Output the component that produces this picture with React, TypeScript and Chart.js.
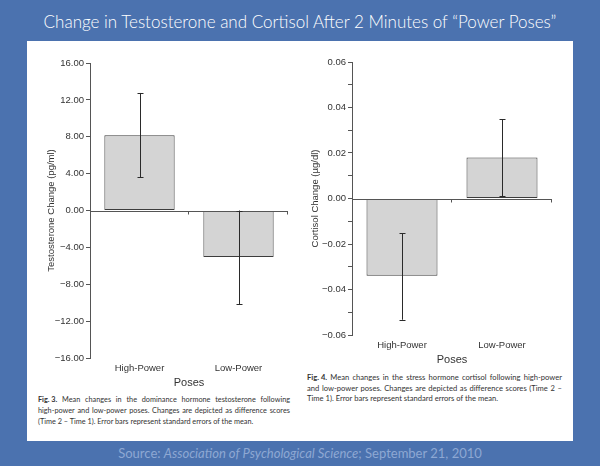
import React, { useEffect, useRef } from 'react';
import { Chart, registerables } from 'chart.js';

Chart.register(...registerables);

// ---------- data ----------
const poses = ['High-Power', 'Low-Power'];

const testosteroneMeans = [8.15, -5.05];
const testosteroneErrLow = [3.6, -10.15];
const testosteroneErrHigh = [12.75, 0];
const testosteroneTicks = [-16, -12, -8, -4, 0, 4, 8, 12, 16];
const testosteroneTickLabels = ['−16.00', '−12.00', '−8.00', '−4.00', '0.00', '4.00', '8.00', '12.00', '16.00'];

const cortisolMeans = [-0.034, 0.018];
const cortisolErrLow = [-0.0533, 0.001];
const cortisolErrHigh = [-0.0153, 0.0348];
const cortisolTicks = [-0.06, -0.05, -0.04, -0.03, -0.02, -0.01, 0, 0.01, 0.02, 0.03, 0.04, 0.05, 0.06];
const cortisolTickLabels = ['−0.06', '', '−0.04', '', '−0.02', '', '0.00', '', '0.02', '', '0.04', '', '0.06'];

const pageTitle = 'Change in Testosterone and Cortisol After 2 Minutes of \u201CPower Poses\u201D';
const fig3Lines = [
  'Mean changes in the dominance hormone testosterone following',
  'high-power and low-power poses. Changes are depicted as difference scores',
  '(Time 2 \u2013 Time 1). Error bars represent standard errors of the mean.',
];
const fig4Lines = [
  'Mean changes in the stress hormone cortisol following high-power',
  'and low-power poses. Changes are depicted as difference scores (Time 2 \u2013',
  'Time 1). Error bars represent standard errors of the mean.',
];

const AXIS = '#555555';
const TEXT = '#333333';
const FONT = '"Liberation Sans", Arial, sans-serif';

const errorBarPlugin = {
  id: 'errorBarsAndZero',
  afterDatasetsDraw(chart: any) {
    const { ctx, chartArea, scales } = chart;
    const x = scales.x;
    const y = scales.y;
    const ds = chart.data.datasets[0];
    const low: number[] = ds.errLow;
    const high: number[] = ds.errHigh;
    ctx.save();
    // zero axis line
    const y0 = Math.round(y.getPixelForValue(0)) + 0.5;
    ctx.strokeStyle = AXIS;
    ctx.lineWidth = 1;
    ctx.beginPath();
    ctx.moveTo(chartArea.left, y0);
    ctx.lineTo(chartArea.right, y0);
    for (let i = 0; i < chart.data.labels.length; i++) {
      const bx = Math.round(x.getPixelForValue(i + 0.5)) - 0.5;
      ctx.moveTo(bx, y0);
      ctx.lineTo(bx, y0 + 3);
    }
    ctx.stroke();
    // error bars
    const meta = chart.getDatasetMeta(0);
    ctx.strokeStyle = '#2a2a2a';
    ctx.beginPath();
    meta.data.forEach((bar: any, i: number) => {
      const cx = Math.round(bar.x) + 0.5;
      const yl = y.getPixelForValue(low[i]);
      const yh = y.getPixelForValue(high[i]);
      ctx.moveTo(cx, yl);
      ctx.lineTo(cx, yh);
      ctx.moveTo(cx - 3, Math.round(yl) + 0.5);
      ctx.lineTo(cx + 3, Math.round(yl) + 0.5);
      ctx.moveTo(cx - 3, Math.round(yh) + 0.5);
      ctx.lineTo(cx + 3, Math.round(yh) + 0.5);
    });
    ctx.stroke();
    ctx.restore();
  },
};

type PanelProps = {
  left: number;
  top: number;
  width: number;
  height: number;
  padTop: number;
  padRight: number;
  yWidth: number;
  xHeight: number;
  means: number[];
  errLow: number[];
  errHigh: number[];
  min: number;
  max: number;
  ticks: number[];
  tickLabels: string[];
  yTitle: string;
  yTitlePad: number;
};

function BarPanel(p: PanelProps) {
  const ref = useRef<HTMLCanvasElement>(null);
  useEffect(() => {
    if (!ref.current) return;
    const chart = new Chart(ref.current, {
      type: 'bar',
      data: {
        labels: poses,
        datasets: [
          {
            data: p.means,
            errLow: p.errLow,
            errHigh: p.errHigh,
            backgroundColor: '#d4d4d4',
            borderColor: '#3c3c3c',
            borderWidth: 1,
            borderSkipped: false,
            categoryPercentage: 1,
            barPercentage: 0.71,
          } as any,
        ],
      },
      options: {
        animation: false,
        responsive: false,
        events: [],
        layout: { padding: { top: p.padTop, right: p.padRight, left: 0, bottom: 0 } },
        plugins: { legend: { display: false }, tooltip: { enabled: false } },
        scales: {
          x: {
            grid: { display: false, drawTicks: false },
            border: { display: false },
            ticks: { font: { family: FONT, size: 9.5 }, color: TEXT, padding: 5, maxRotation: 0 },
            title: {
              display: true,
              text: 'Poses',
              font: { family: FONT, size: 11 },
              color: TEXT,
              padding: { top: 0, bottom: 2 },
            },
            afterFit: (s: any) => {
              s.height = p.xHeight;
            },
          },
          y: {
            min: p.min,
            max: p.max,
            afterBuildTicks: (s: any) => {
              s.ticks = p.ticks.map((v) => ({ value: v }));
            },
            grid: { display: true, drawOnChartArea: false, drawTicks: true, tickLength: 4, color: AXIS },
            border: { display: true, color: AXIS },
            ticks: {
              font: { family: FONT, size: 9.5 },
              color: TEXT,
              padding: 2,
              autoSkip: false,
              callback: (_v: any, i: number) => p.tickLabels[i],
            },
            title: {
              display: true,
              text: p.yTitle,
              font: { family: FONT, size: 9.5 },
              color: TEXT,
              padding: { top: p.yTitlePad, bottom: 0 },
            },
            afterFit: (s: any) => {
              s.width = p.yWidth;
            },
          },
        },
      },
      plugins: [errorBarPlugin],
    });
    return () => chart.destroy();
  }, []);
  return (
    <canvas
      ref={ref}
      width={p.width}
      height={p.height}
      style={{ position: 'absolute', left: p.left, top: p.top, width: p.width, height: p.height }}
    />
  );
}

function Caption({ left, top, width, label, lines, lineHeight, fontSize }: any) {
  return (
    <div
      style={{
        position: 'absolute',
        left,
        top,
        width,
        fontFamily: 'Lato, "Open Sans", sans-serif',
        fontSize,
        lineHeight: lineHeight + 'px',
        color: '#333',
        whiteSpace: 'nowrap',
      }}
    >
      {lines.map((ln: string, i: number) => {
        const last = i === lines.length - 1;
        if (last) {
          return <div key={i}>{ln}</div>;
        }
        const words = ln.split(' ');
        return (
          <div key={i} style={{ display: 'flex', justifyContent: 'space-between' }}>
            {i === 0 ? <b>{label}</b> : null}
            {words.map((w, j) => (
              <span key={j}>{w}</span>
            ))}
          </div>
        );
      })}
    </div>
  );
}

export default function App() {
  return (
    <div
      style={{
        position: 'absolute',
        left: 0,
        top: 0,
        width: 600,
        height: 466,
        background: '#4b72af',
        overflow: 'hidden',
      }}
    >
      <div
        style={{
          position: 'absolute',
          left: 0,
          top: 11,
          width: 600,
          textAlign: 'center',
          color: '#ffffff',
          fontFamily: 'Lato, "Open Sans", sans-serif',
          fontWeight: 300,
          fontSize: 17,
          lineHeight: '22px',
        }}
      >
        {pageTitle}
      </div>
      <div style={{ position: 'absolute', left: 27, top: 41, width: 546, height: 400, background: '#ffffff' }} />
      <BarPanel
        left={28}
        top={50}
        width={272}
        height={342}
        padTop={13}
        padRight={12}
        yWidth={62}
        xHeight={34}
        means={testosteroneMeans}
        errLow={testosteroneErrLow}
        errHigh={testosteroneErrHigh}
        min={-16}
        max={16}
        ticks={testosteroneTicks}
        tickLabels={testosteroneTickLabels}
        yTitle="Testosterone Change (pg/ml)"
        yTitlePad={18}
      />
      <BarPanel
        left={300}
        top={50}
        width={270}
        height={319}
        padTop={12}
        padRight={18}
        yWidth={52}
        xHeight={34}
        means={cortisolMeans}
        errLow={cortisolErrLow}
        errHigh={cortisolErrHigh}
        min={-0.06}
        max={0.06}
        ticks={cortisolTicks}
        tickLabels={cortisolTickLabels}
        yTitle="Cortisol Change (µg/dl)"
        yTitlePad={10}
      />
      <Caption left={38} top={394} width={252} label="Fig. 3." lines={fig3Lines} lineHeight={11} fontSize={7.3} />
      <Caption left={307} top={372} width={255} label="Fig. 4." lines={fig4Lines} lineHeight={10.5} fontSize={7.6} />
      <div
        style={{
          position: 'absolute',
          left: 0,
          top: 444,
          width: 600,
          textAlign: 'center',
          color: '#8ea8d3',
          fontFamily: 'Lato, "Open Sans", sans-serif',
          fontSize: 13,
          lineHeight: '18px',
        }}
      >
        Source: <i>Association of Psychological Science</i>; September 21, 2010
      </div>
    </div>
  );
}
